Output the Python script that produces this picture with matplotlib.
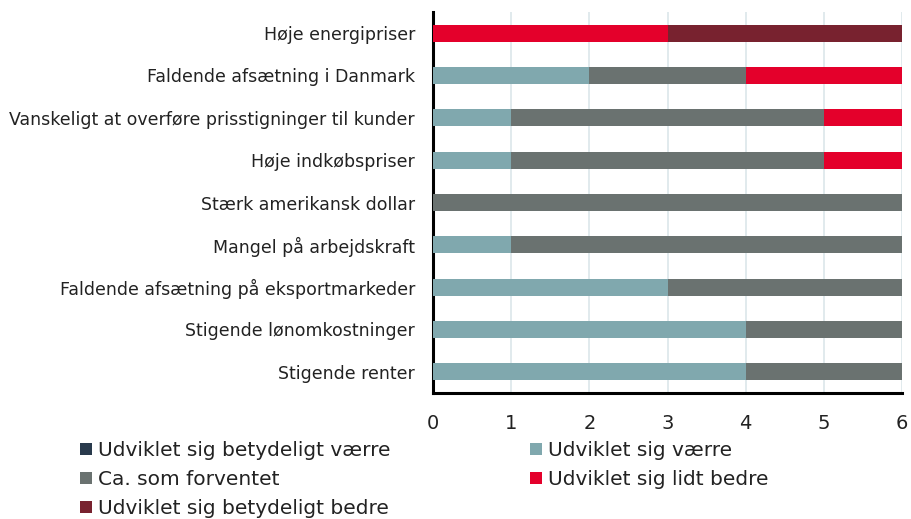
import numpy as np
import matplotlib
matplotlib.use('Agg')
import matplotlib.pyplot as plt

categories = [
    "Høje energipriser",
    "Faldende afsætning i Danmark",
    "Vanskeligt at overføre prisstigninger til kunder",
    "Høje indkøbspriser",
    "Stærk amerikansk dollar",
    "Mangel på arbejdskraft",
    "Faldende afsætning på eksportmarkeder",
    "Stigende lønomkostninger",
    "Stigende renter",
]
series_names = [
    "Udviklet sig betydeligt værre",
    "Udviklet sig værre",
    "Ca. som forventet",
    "Udviklet sig lidt bedre",
    "Udviklet sig betydeligt bedre",
]
much_worse = [0, 0, 0, 0, 0, 0, 0, 0, 0]
worse = [0, 2, 1, 1, 0, 1, 3, 4, 4]
as_expected = [0, 2, 4, 4, 6, 5, 3, 2, 2]
bit_better = [3, 2, 1, 1, 0, 0, 0, 0, 0]
much_better = [3, 0, 0, 0, 0, 0, 0, 0, 0]

colors = ["#293a4c", "#80a8ae", "#6a7270", "#e4002b", "#78222f"]

plt.rcParams['font.family'] = ['DejaVu Sans']

fig = plt.figure(figsize=(9.11, 5.19), dpi=100)
ax = fig.add_axes([433 / 911, 1 - 393 / 519, 469 / 911, 381 / 519])

y = np.arange(len(categories))
left = np.zeros(len(categories))
handles = []
for name, vals, c in zip(series_names, [much_worse, worse, as_expected, bit_better, much_better], colors):
    vals = np.array(vals, dtype=float)
    b = ax.barh(y, vals, left=left, height=0.4, color=c, label=name, zorder=3)
    handles.append(b)
    left += vals

ax.set_ylim(len(categories) - 0.5, -0.5)
ax.set_xlim(0, 6)
ax.set_xticks(range(7))
ax.set_yticks(y)
ax.set_yticklabels(categories, fontsize=12.5, color="#222222")
ax.tick_params(axis='x', labelsize=14, length=0, pad=15, colors="#222222")
ax.tick_params(axis='y', length=0, pad=13)
ax.grid(axis='x', color="#dbe6ea", linewidth=1.2, zorder=0)
for s in ['top', 'right']:
    ax.spines[s].set_visible(False)
ax.spines['left'].set_linewidth(2.2)
ax.spines['bottom'].set_linewidth(2.2)
ax.spines['left'].set_color('black')
ax.spines['bottom'].set_color('black')

# legend order: row-wise in two columns
order = [0, 2, 4, 1, 3]
fig.legend([handles[i] for i in order], [series_names[i] for i in order],
           ncol=2, loc='upper left', bbox_to_anchor=(80 / 911, 1 - 441 / 519),
           frameon=False, fontsize=14.5, handlelength=0.6, handleheight=0.6,
           handletextpad=0.3, columnspacing=6.9, labelspacing=0.5,
           borderaxespad=0, borderpad=0, labelcolor="#222222")

fig.savefig('out.png', dpi=100)
